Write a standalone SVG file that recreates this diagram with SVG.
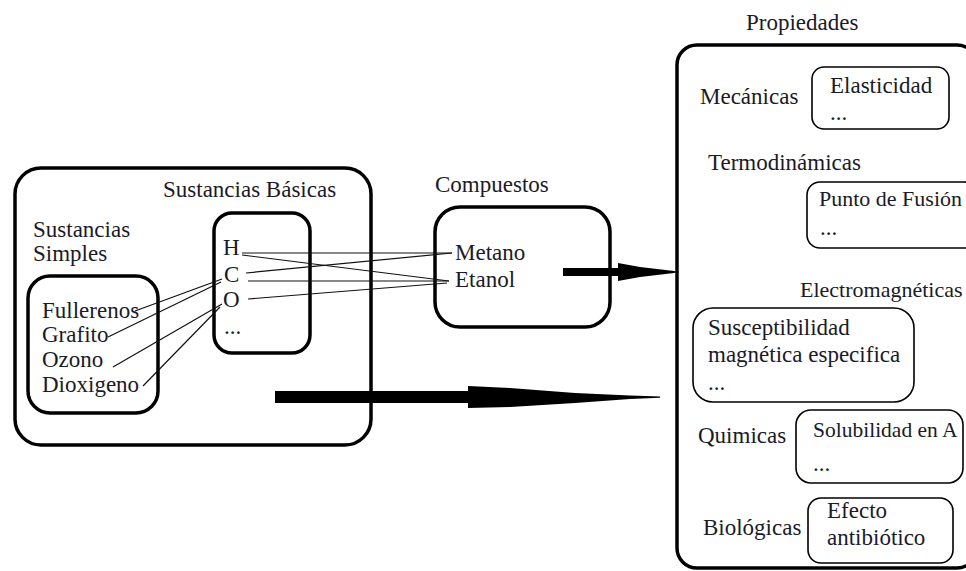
<svg xmlns="http://www.w3.org/2000/svg" width="966" height="571" viewBox="0 0 966 571" font-family="'Liberation Serif', 'Times New Roman', serif" font-size="23">
  <style>
    text { font-family: "Liberation Serif", "Times New Roman", serif; font-size: 23px; fill: #1a1a28; }
    .edge { font-size: 22px; }
    .box { fill: none; stroke: #000; stroke-width: 3.5; }
    .pbox { fill: none; stroke: #000; stroke-width: 1.6; }
    .link { stroke: #111; stroke-width: 1.2; fill: none; }
    .heavy { fill: #000; }
  </style>
  <rect width="966" height="571" fill="#fff"/>

  <!-- Sustancias (outer container) -->
  <g id="sustancias">
    <rect class="box" x="15" y="168" width="356" height="277" rx="26"/>
    <text x="33" y="237">Sustancias</text>
    <text x="33" y="261">Simples</text>
  </g>

  <!-- Sustancias simples -->
  <g id="sustancias-simples">
    <rect class="box" x="28" y="276" width="130" height="137" rx="22"/>
    <text x="42" y="318">Fullerenos</text>
    <text x="42" y="342">Grafito</text>
    <text x="42" y="367">Ozono</text>
    <text x="42" y="392">Dioxigeno</text>
  </g>

  <!-- Sustancias basicas -->
  <g id="sustancias-basicas">
    <text x="163" y="197">Sustancias Básicas</text>
    <rect class="box" x="214" y="213" width="96" height="140" rx="18"/>
    <text x="223" y="255">H</text>
    <text x="224" y="282">C</text>
    <text x="223" y="307">O</text>
    <text x="224" y="334">...</text>
  </g>

  <!-- Compuestos -->
  <g id="compuestos">
    <text x="435" y="192">Compuestos</text>
    <rect class="box" x="435" y="207" width="175" height="120" rx="25"/>
    <text x="455" y="260">Metano</text>
    <text x="455" y="287">Etanol</text>
  </g>

  <!-- Propiedades -->
  <g id="propiedades">
    <text x="746" y="30">Propiedades</text>
    <rect class="box" x="677" y="45" width="300" height="523" rx="20"/>
  </g>

  <g id="mecanicas">
    <text x="700" y="104">Mecánicas</text>
    <rect class="pbox" x="812" y="67" width="137" height="62" rx="12"/>
    <text x="830" y="93">Elasticidad</text>
    <text x="830" y="120">...</text>
  </g>

  <g id="termodinamicas">
    <text x="708" y="170">Termodinámicas</text>
    <rect class="pbox" x="807" y="182" width="170" height="66" rx="13"/>
    <text class="edge" x="819" y="206">Punto de Fusión</text>
    <text x="820" y="235">...</text>
  </g>

  <g id="electromagneticas">
    <text class="edge" x="800" y="297">Electromagnéticas</text>
    <rect class="pbox" x="693" y="308" width="221" height="94" rx="20"/>
    <text x="708" y="335">Susceptibilidad</text>
    <text x="708" y="362">magnética especifica</text>
    <text x="708" y="390">...</text>
  </g>

  <g id="quimicas">
    <text x="698" y="443">Quimicas</text>
    <rect class="pbox" x="796" y="410" width="167" height="73" rx="15"/>
    <text x="813" y="437" font-size="21.5" style="font-size:21.5px">Solubilidad en A</text>
    <text x="813" y="471">...</text>
  </g>

  <g id="biologicas">
    <text x="703" y="535">Biológicas</text>
    <rect class="pbox" x="808" y="498" width="145" height="65" rx="13"/>
    <text x="827" y="518">Efecto</text>
    <text x="827" y="545">antibiótico</text>
  </g>

  <!-- Connectors -->
  <g id="connectors">
    <!-- simple substances to elements -->
    <line class="link" x1="135" y1="311" x2="222" y2="279"/>
    <line class="link" x1="108" y1="337" x2="221" y2="282"/>
    <line class="link" x1="113" y1="367" x2="222" y2="304"/>
    <line class="link" x1="143" y1="386" x2="220" y2="307"/>
    <!-- elements to compounds -->
    <line class="link" x1="242" y1="253" x2="452" y2="253"/>
    <line class="link" x1="242" y1="255" x2="449" y2="281"/>
    <line class="link" x1="246" y1="273" x2="452" y2="253"/>
    <line class="link" x1="248" y1="281" x2="449" y2="281"/>
    <line class="link" x1="248" y1="299" x2="447" y2="283"/>
    <!-- compounds to properties -->
    <path class="heavy" d="M563,268 H618 V263 L640,267 L674,271 L677,272 L674,273 L640,277 L618,281 V276 H563 Z"/>
    <!-- substances to properties -->
    <path class="heavy" d="M275,391 H468 V386 L510,388 L575,393 L630,395.5 L660,396.5 V397.8 L630,399 L575,403 L510,407 L468,408 V403 H275 Z"/>
  </g>
</svg>
